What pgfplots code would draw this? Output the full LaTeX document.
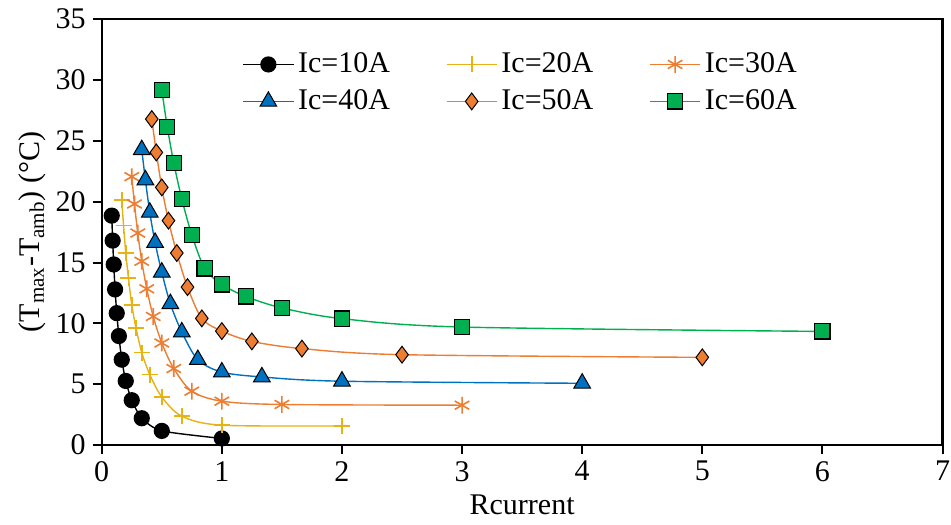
\documentclass[border=0pt]{standalone}
\usepackage{pgfplots}
\pgfplotsset{compat=1.18}
\usepackage{fontspec}
\setmainfont{Liberation Serif}
\definecolor{cgold}{RGB}{230,178,20}
\definecolor{corange}{RGB}{237,125,49}
\definecolor{cblue}{RGB}{0,112,192}
\definecolor{cgreen}{RGB}{0,176,80}
\begin{document}
\begin{tikzpicture}
\begin{axis}[
  name=ax,
  scale only axis,
  width=420.25pt, height=213pt,
  xmin=0, xmax=7, ymin=0, ymax=35,
  xtick={0,1,...,7}, ytick={0,5,...,35},
  axis lines=box,
  tick pos=left, tick align=outside,
  major tick length=4.5pt,
  axis line style={black, line width=1pt},
  every tick/.style={black, line width=1pt},
  /pgf/number format/assume math mode=true,
  tick label style={font=\fontsize{15}{18}\selectfont},
  label style={font=\fontsize{15}{18}\selectfont},
  xlabel={Rcurrent},
  ylabel={(T\textsubscript{max}-T\textsubscript{amb}) (°C)},
  xlabel style={yshift=0pt},
  ylabel style={yshift=-2pt},
  legend style={at={(0.16,0.94)}, anchor=north west, draw=none, fill=none,
    font=\fontsize{15}{18}\selectfont, row sep=3pt,
    /tikz/every even column/.append style={column sep=26pt}},
  legend columns=3,
  legend cell align=left,
  legend image code/.code={\draw[mark repeat=2,mark phase=2] plot coordinates {(0pt,0pt) (12.5pt,0pt) (25pt,0pt)};},
]
\addplot[black, line width=0.7pt, smooth, tension=0.4, mark=*, mark size=3.7pt, mark options={fill=black, draw=black}] coordinates {
(0.08333,18.85) (0.09091,16.8) (0.1,14.84) (0.1111,12.79) (0.125,10.84) (0.1429,8.96) (0.1667,7.02) (0.2,5.27) (0.25,3.69) (0.3333,2.21) (0.5,1.17) (1,0.55)};
\addlegendentry{Ic=10A}
\addplot[cgold, line width=0.7pt, smooth, tension=0.5, mark=+, mark size=4pt, mark options={line width=0.8pt}] coordinates {
(0.1667,20.14) (0.1818,18.03) (0.2,15.8) (0.2222,13.75) (0.25,11.53) (0.2857,9.61) (0.3333,7.6) (0.4,5.8) (0.5,3.96) (0.6667,2.38) (1,1.64) (2,1.58)};
\addlegendentry{Ic=20A}
\addplot[corange, line width=0.7pt, smooth, tension=0.5, mark=asterisk, mark size=4.2pt, mark options={line width=0.8pt}] coordinates {
(0.25,22.05) (0.2727,19.81) (0.3,17.42) (0.3333,15.1) (0.375,12.84) (0.4286,10.57) (0.5,8.39) (0.6,6.29) (0.75,4.43) (1,3.61) (1.5,3.34) (3,3.28)};
\addlegendentry{Ic=30A}
\addplot[cblue, line width=0.7pt, smooth, tension=0.5, mark=triangle*, mark size=4.8pt, mark options={fill=cblue, draw=black, line width=0.5pt}] coordinates {
(0.3333,24.26) (0.3636,21.78) (0.4,19.12) (0.4444,16.64) (0.5,14.2) (0.5714,11.61) (0.6667,9.29) (0.8,7.02) (1,6.0) (1.3333,5.6) (2,5.25) (4,5.08)};
\addlegendentry{Ic=40A}
\addplot[corange, line width=0.7pt, smooth, tension=0.5, mark=diamond*, mark size=4.2pt, mark options={fill=corange, draw=black, line width=0.5pt}] coordinates {
(0.4167,26.78) (0.4545,24.04) (0.5,21.17) (0.5556,18.44) (0.625,15.78) (0.7143,12.98) (0.8333,10.41) (1,9.37) (1.25,8.52) (1.6667,7.93) (2.5,7.43) (5,7.21)};
\addlegendentry{Ic=50A}
\addplot[cgreen, line width=0.7pt, smooth, tension=0.5, mark=square*, mark size=3.8pt, mark options={fill=cgreen, draw=black, line width=0.6pt}] coordinates {
(0.5,29.18) (0.5455,26.15) (0.6,23.17) (0.6667,20.22) (0.75,17.27) (0.8571,14.52) (1,13.2) (1.2,12.21) (1.5,11.27) (2,10.39) (3,9.70) (6,9.34)};
\addlegendentry{Ic=60A}
\end{axis}
\draw[black, line width=1.2pt] (ax.south west) rectangle (ax.north east);
\pgfresetboundingbox
\path ([shift={(-50.85pt,-39.5pt)}]ax.south west) rectangle ([shift={(4.25pt,9.5pt)}]ax.north east);
\end{tikzpicture}
\end{document}
